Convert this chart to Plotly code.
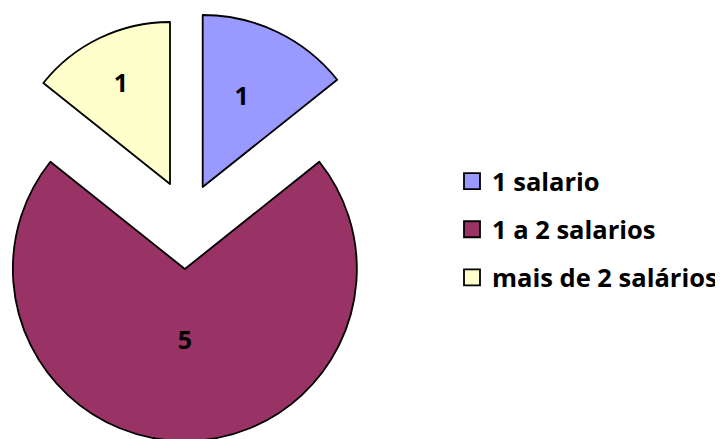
import plotly.graph_objects as go

# ---- data ----
categories = ["1 salario", "1 a 2 salarios", "mais de 2 salários"]
values = [1, 5, 1]
colors = ["#9999FF", "#993366", "#FFFFCC"]

W, H = 723, 439
PAGE = 8  # default page margin of the html body
# slice placement (exploded pie) in screen px: centre x, centre y, radius
slice_geom = [
    (202.7, 187.0, 172.0),
    (184.85, 269.0, 172.0),
    (170.0, 184.0, 162.0),
]
NB = "\u00a0"
# label layout templates (nudge the value inside each slice)
label_fmt = [
    NB + "<br>{v}" + NB * 4,
    "{v}<br>" + NB,
    "{v}",
]

FONT = "Open Sans"
TRANSPARENT = "rgba(0,0,0,0)"

fig = go.Figure()

for i, (sx, sy, r) in enumerate(slice_geom):
    cx, cy = sx - PAGE, sy - PAGE
    x0 = max(0.0, (cx - r) / W)
    x1 = min(1.0, (cx + r) / W)
    y0 = max(0.0, 1 - (cy + r) / H)
    y1 = min(1.0, 1 - (cy - r) / H)
    cols = [colors[j] if j == i else TRANSPARENT for j in range(len(values))]
    widths = [1.8 if j == i else 0 for j in range(len(values))]
    texts = [label_fmt[j].format(v=values[j]) if j == i else "" for j in range(len(values))]
    fig.add_trace(go.Pie(
        labels=categories,
        values=values,
        sort=False,
        direction="clockwise",
        rotation=0,
        marker=dict(colors=cols, line=dict(color="black", width=widths)),
        text=texts,
        textinfo="text",
        textposition="inside",
        insidetextorientation="horizontal",
        textfont=dict(family=FONT, size=25, color="black", weight="bold"),
        domain=dict(x=[x0, x1], y=[y0, y1]),
        showlegend=False,
        hoverinfo="skip",
    ))

# legend entries
for i, cat in enumerate(categories):
    fig.add_trace(go.Scatter(
        x=[None], y=[None],
        mode="markers",
        name=cat,
        legendgroup=f"g{i}",
        marker=dict(symbol="square", size=18, color=colors[i],
                    line=dict(color="black", width=1.8)),
        showlegend=True,
    ))

fig.update_layout(
    width=W, height=H,
    margin=dict(l=0, r=0, t=0, b=0),
    paper_bgcolor="white",
    plot_bgcolor="white",
    xaxis=dict(visible=False),
    yaxis=dict(visible=False),
    legend=dict(
        x=(452 - PAGE) / W, y=1 - (158 - PAGE) / H,
        xanchor="left", yanchor="top",
        traceorder="grouped",
        tracegroupgap=12,
        itemsizing="trace",
        font=dict(family=FONT, size=25.5, color="black", weight="bold"),
        bgcolor="rgba(0,0,0,0)",
    ),
)

fig.write_html("out.html")
